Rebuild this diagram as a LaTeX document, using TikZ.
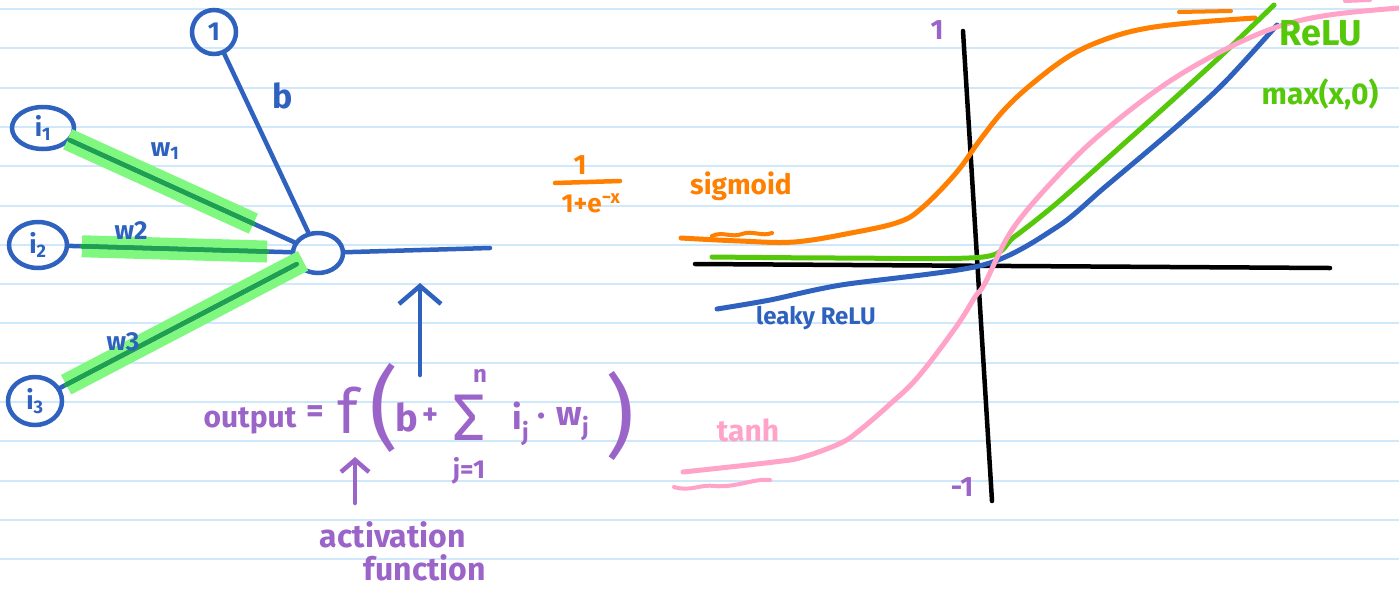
\documentclass[tikz,border=0pt]{standalone}
\usepackage{fontspec}
\setmainfont{Fira Sans}
\usetikzlibrary{calc,arrows.meta,shapes.geometric}
\definecolor{pen}{RGB}{47,98,190}
\definecolor{hl}{RGB}{128,248,128}
\definecolor{hldark}{RGB}{30,160,80}
\definecolor{purp}{RGB}{155,100,200}
\definecolor{orng}{RGB}{255,127,0}
\definecolor{grn}{RGB}{85,200,10}
\definecolor{pnk}{RGB}{255,163,200}
\definecolor{rule}{RGB}{207,232,250}
\tikzset{
  neuron/.style={ellipse, draw=pen, line width=4.5pt, inner sep=0pt, text=pen, font=\fontsize{26}{26}\selectfont\bfseries},
  edge/.style={draw=pen, line width=4.5pt, line cap=round},
  hlband/.style={draw=hl, line width=22pt},
  hlline/.style={draw=hldark, line width=4.5pt, line cap=round},
  curve/.style={line width=5pt, line cap=round, line join=round},
  axisline/.style={draw=black, line width=4.5pt, line cap=round},
  lbl/.style={inner sep=0pt},
  fs/.style={font=\fontsize{#1}{#1}\selectfont\bfseries},
  fr/.style={font=\fontsize{#1}{#1}\selectfont},
  barb/.style={-{Straight Barb[length=18pt,width=42pt,line width=4.5pt]}},
}
\begin{document}
\begin{tikzpicture}[x=1pt,y=-1pt]
\useasboundingbox (0,0) rectangle (1399,590);
\fill[white] (0,0) rectangle (1399,590);
\foreach \k in {0,...,14}{\draw[rule,line width=2pt] (0,{9+39.3*\k}) -- (1399,{9+39.3*\k});}

% ---------------- neuron ----------------
\node[neuron, minimum width=44pt, minimum height=44pt] (one) at (214,32) {1};
\node[neuron, minimum width=62pt, minimum height=42pt] (i1) at (43,128) {i\textsubscript{1}};
\node[neuron, minimum width=58pt, minimum height=46pt] (i2) at (38,245) {i\textsubscript{2}};
\node[neuron, minimum width=54pt, minimum height=48pt] (i3) at (35,401) {i\textsubscript{3}};
\node[neuron, minimum width=50pt, minimum height=40pt] (n) at (318,253) {};
\coordinate (out) at (490,248);

% highlight bands
\draw[hlband] ($(i1)!0.09!(n)$) -- ($(i1)!0.765!(n)$);
\draw[hlband] ($(i2)!0.157!(n)$) -- ($(i2)!0.818!(n)$);
\draw[hlband] ($(i3)!0.11!(n)$) -- ($(i3)!0.947!(n)$);

% connectors
\draw[edge] (one) -- (n);
\draw[edge] (i1) -- (n);
\draw[edge] (i2) -- (n);
\draw[edge] (i3) -- (n);
\draw[edge] (n) -- (out);
\draw[hlline] ($(i1)!0.095!(n)$) -- ($(i1)!0.765!(n)$);
\draw[hlline] ($(i2)!0.157!(n)$) -- ($(i2)!0.818!(n)$);
\draw[hlline] ($(i3)!0.11!(n)$) -- ($(i3)!0.925!(n)$);

% weight labels
\node[lbl, text=pen, fs=34] (bl) at (283,96) {b};
\node[lbl, text=pen, fs=26] (w1) at (165,151) {w\textsubscript{1}};
\node[lbl, text=pen, fs=26] (w2) at (131,231) {w2};
\node[lbl, text=pen, fs=26] (w3) at (123,342) {w3};

% output arrow
\coordinate (arrbot) at (420,375);
\coordinate (arrtop) at (420,283);
\draw[edge, barb] (arrbot) -- (arrtop);

% formula
\node[lbl, text=purp, fs=30, anchor=base] (outp) at (250,427) {output};
\node[lbl, text=purp, fs=34] (eq) at (315,414) {=};
\node[lbl, text=purp, fr=62] (f) at (348,410) {f};
\node[lbl, text=purp, fr=90] (lp) at (384,408) {(};
\node[lbl, text=purp, fs=38] (bb) at (407,417) {b};
\node[lbl, text=purp, fs=30] (plus) at (430,416) {+};
\node[lbl, text=purp, fr=66, anchor=base] (sig) at (469,440) {Σ};
\node[lbl, text=purp, fs=24] (nn) at (480,376) {n};
\node[lbl, text=purp, fs=26] (j1) at (469,471) {j=1};
\node[lbl, text=purp, fs=34] (ij) at (521,424) {i\textsubscript{j}};
\node[lbl, text=purp, fs=34] (dot) at (542,420) {·};
\node[lbl, text=purp, fs=34] (wj) at (573,424) {w\textsubscript{j}};
\node[lbl, text=purp, fr=90] (rp) at (620,416) {)};
\coordinate (a2bot) at (355,503);
\coordinate (a2top) at (355,457);
\draw[draw=purp, line width=4.5pt, line cap=round, -{Straight Barb[length=12pt,width=28pt,line width=4.5pt]}] (a2bot) -- (a2top);
\node[lbl, text=purp, fs=32] (act) at (393,535) {activation};
\node[lbl, text=purp, fs=32] (fun) at (425,568) {function};

% sigmoid formula
\node[lbl, text=orng, fs=28] (num) at (580,165) {1};
\coordinate (barL) at (555,183);
\coordinate (barR) at (620,181);
\draw[draw=orng, line width=4.5pt, line cap=round] (barL) -- (barR);
\node[lbl, text=orng, fs=26] (den) at (591,203) {1+e\textsuperscript{−x}};

% ---------------- graph ----------------
\coordinate (ytop) at (963,31);
\coordinate (ybot) at (992,501);
\coordinate (xl) at (695,264);
\coordinate (xr) at (1330,268);
\draw[axisline] (ytop) -- (ybot);
\draw[axisline] (xl) -- (xr);

% sigmoid
\draw[curve, orng] plot[smooth, tension=0.6] coordinates {(681,238) (740,241) (794,242) (851,233) (899,222) (923,207) (956,173) (980,140) (1004,110) (1033,83) (1071,55) (1109,38) (1148,28) (1200,22) (1255,18)};
\draw[curve, orng, line width=4pt] (712,236) .. controls (722,231) and (732,238) .. (742,234) .. controls (752,230) and (762,237) .. (772,233);
\draw[curve, orng, line width=4pt] (1179,12) -- (1231,11);
% ReLU
\draw[curve, grn] plot[smooth, tension=0.5] coordinates {(712,257) (841,258) (983,257) (1014,237) (1057,203) (1128,140) (1176,97) (1224,53) (1274,5)};
% leaky ReLU
\draw[curve, pen] plot[smooth, tension=0.5] coordinates {(717,309) (770,300) (841,285) (983,265) (1057,227) (1105,187) (1176,127) (1224,83) (1277,25)};
% tanh
\draw[curve, pnk] plot[smooth, tension=0.6] coordinates {(683,472) (774,462) (803,457) (841,443) (860,430) (889,405) (918,377) (956,327) (975,297) (985,283) (1014,227) (1066,167) (1109,127) (1167,83) (1224,50) (1277,27) (1329,15) (1399,8)};
\draw[curve, pnk, line width=4pt] (674,487) .. controls (690,492) and (700,484) .. (715,486) .. controls (735,488) and (755,478) .. (770,480);
\draw[curve, pnk, line width=4pt] (1345,1) -- (1370,0);

% labels
\node[lbl, text=purp, fs=28] (yone) at (937,30) {1};
\node[lbl, text=purp, fs=28] (ymone) at (962,487) {-1};
\node[lbl, text=orng, fs=28] (sigl) at (741,186) {sigmoid};
\node[lbl, text=grn, fs=36] (relul) at (1321,33) {ReLU};
\node[lbl, text=grn, fs=30] (maxl) at (1320,94) {max(x,0)};
\node[lbl, text=pen, fs=24] (leakl) at (816,318) {leaky ReLU};
\node[lbl, text=pnk, fs=30] (tanhl) at (748,430) {tanh};
\end{tikzpicture}
\end{document}
